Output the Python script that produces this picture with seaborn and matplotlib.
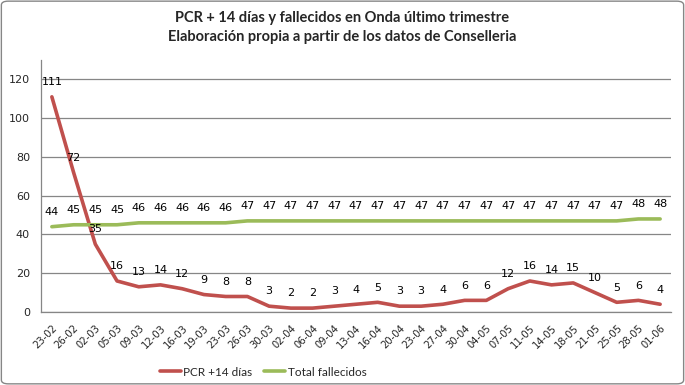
import matplotlib
matplotlib.use("Agg")
import matplotlib.pyplot as plt
from matplotlib.patches import FancyBboxPatch
import seaborn as sns
import pandas as pd
import numpy as np

fechas = ["23-02", "26-02", "02-03", "05-03", "09-03", "12-03", "16-03", "19-03", "23-03", "26-03",
          "30-03", "02-04", "06-04", "09-04", "13-04", "16-04", "20-04", "23-04", "27-04", "30-04",
          "04-05", "07-05", "11-05", "14-05", "18-05", "21-05", "25-05", "28-05", "01-06"]
pcr = [111, 72, 35, 16, 13, 14, 12, 9, 8, 8, 3, 2, 2, 3, 4, 5, 3, 3, 4, 6, 6, 12, 16, 14, 15, 10, 5, 6, 4]
fallecidos = [44, 45, 45, 45, 46, 46, 46, 46, 46, 47, 47, 47, 47, 47, 47, 47, 47, 47, 47, 47,
              47, 47, 47, 47, 47, 47, 47, 48, 48]
series_names = ["PCR +14 días", "Total fallecidos"]
colors = ["#C0504D", "#9BBB59"]
title = "PCR + 14 días y fallecidos en Onda último trimestre\nElaboración propia a partir de los datos de Conselleria"

sns.set_theme(style="white")
plt.rcParams['font.family'] = ['DejaVu Sans']

n = len(fechas)
df = pd.DataFrame({
    "pos": list(range(n)) * 2,
    "valor": pcr + fallecidos,
    "serie": [series_names[0]] * n + [series_names[1]] * n,
})

fig = plt.figure(figsize=(6.85, 3.85), dpi=100)
ax = fig.add_axes([41 / 685, 1 - 312 / 385, 630 / 685, (312 - 60) / 385])

sns.lineplot(data=df, x="pos", y="valor", hue="serie", palette=colors, linewidth=2.6,
             ax=ax, sort=False, legend=True)

ax.set_xlim(-0.5, n - 0.5)
ax.set_ylim(0, 130)
ax.set_yticks(range(0, 121, 20))
ax.set_xticks(range(n))
ax.set_xticklabels(fechas, rotation=45, ha="right", rotation_mode="anchor", fontsize=7.2)
ax.tick_params(axis="y", labelsize=8, length=0, pad=8)
ax.tick_params(axis="x", length=0, pad=8)
ax.set_xlabel("")
ax.set_ylabel("")
ax.grid(axis="y", color="#868686", linewidth=0.9)
ax.set_axisbelow(True)
for s in ["top", "right"]:
    ax.spines[s].set_visible(False)
for s in ["left", "bottom"]:
    ax.spines[s].set_color("#868686")
    ax.spines[s].set_linewidth(0.9)

for i, v in enumerate(pcr):
    ax.annotate(str(v), (i, v), xytext=(0, 7), textcoords="offset points", ha="center",
                va="bottom", fontsize=8, color="black")
for i, v in enumerate(fallecidos):
    ax.annotate(str(v), (i, v), xytext=(0, 7), textcoords="offset points", ha="center",
                va="bottom", fontsize=8, color="black")

leg = ax.legend(loc="center", ncol=2, frameon=False,
                handlelength=1.8, columnspacing=1.0, handletextpad=0.2,
                prop={'family': ['Lato', 'DejaVu Sans'], 'size': 8.5})
leg.set_bbox_to_anchor((263 / 685, 1 - 372 / 385), transform=fig.transFigure)
for line in leg.get_lines():
    line.set_linewidth(2.6)

fig.suptitle(title, y=0.972, fontsize=10.5, fontweight="bold", linespacing=1.5,
             family=['Lato', 'DejaVu Sans'])

border = FancyBboxPatch((0.002, 0.003), 0.996, 0.994, boxstyle="round,pad=0,rounding_size=0.01",
                        transform=fig.transFigure, fill=False, edgecolor="#868686", linewidth=1)
fig.patches.append(border)

fig.savefig("out.png", dpi=100)
